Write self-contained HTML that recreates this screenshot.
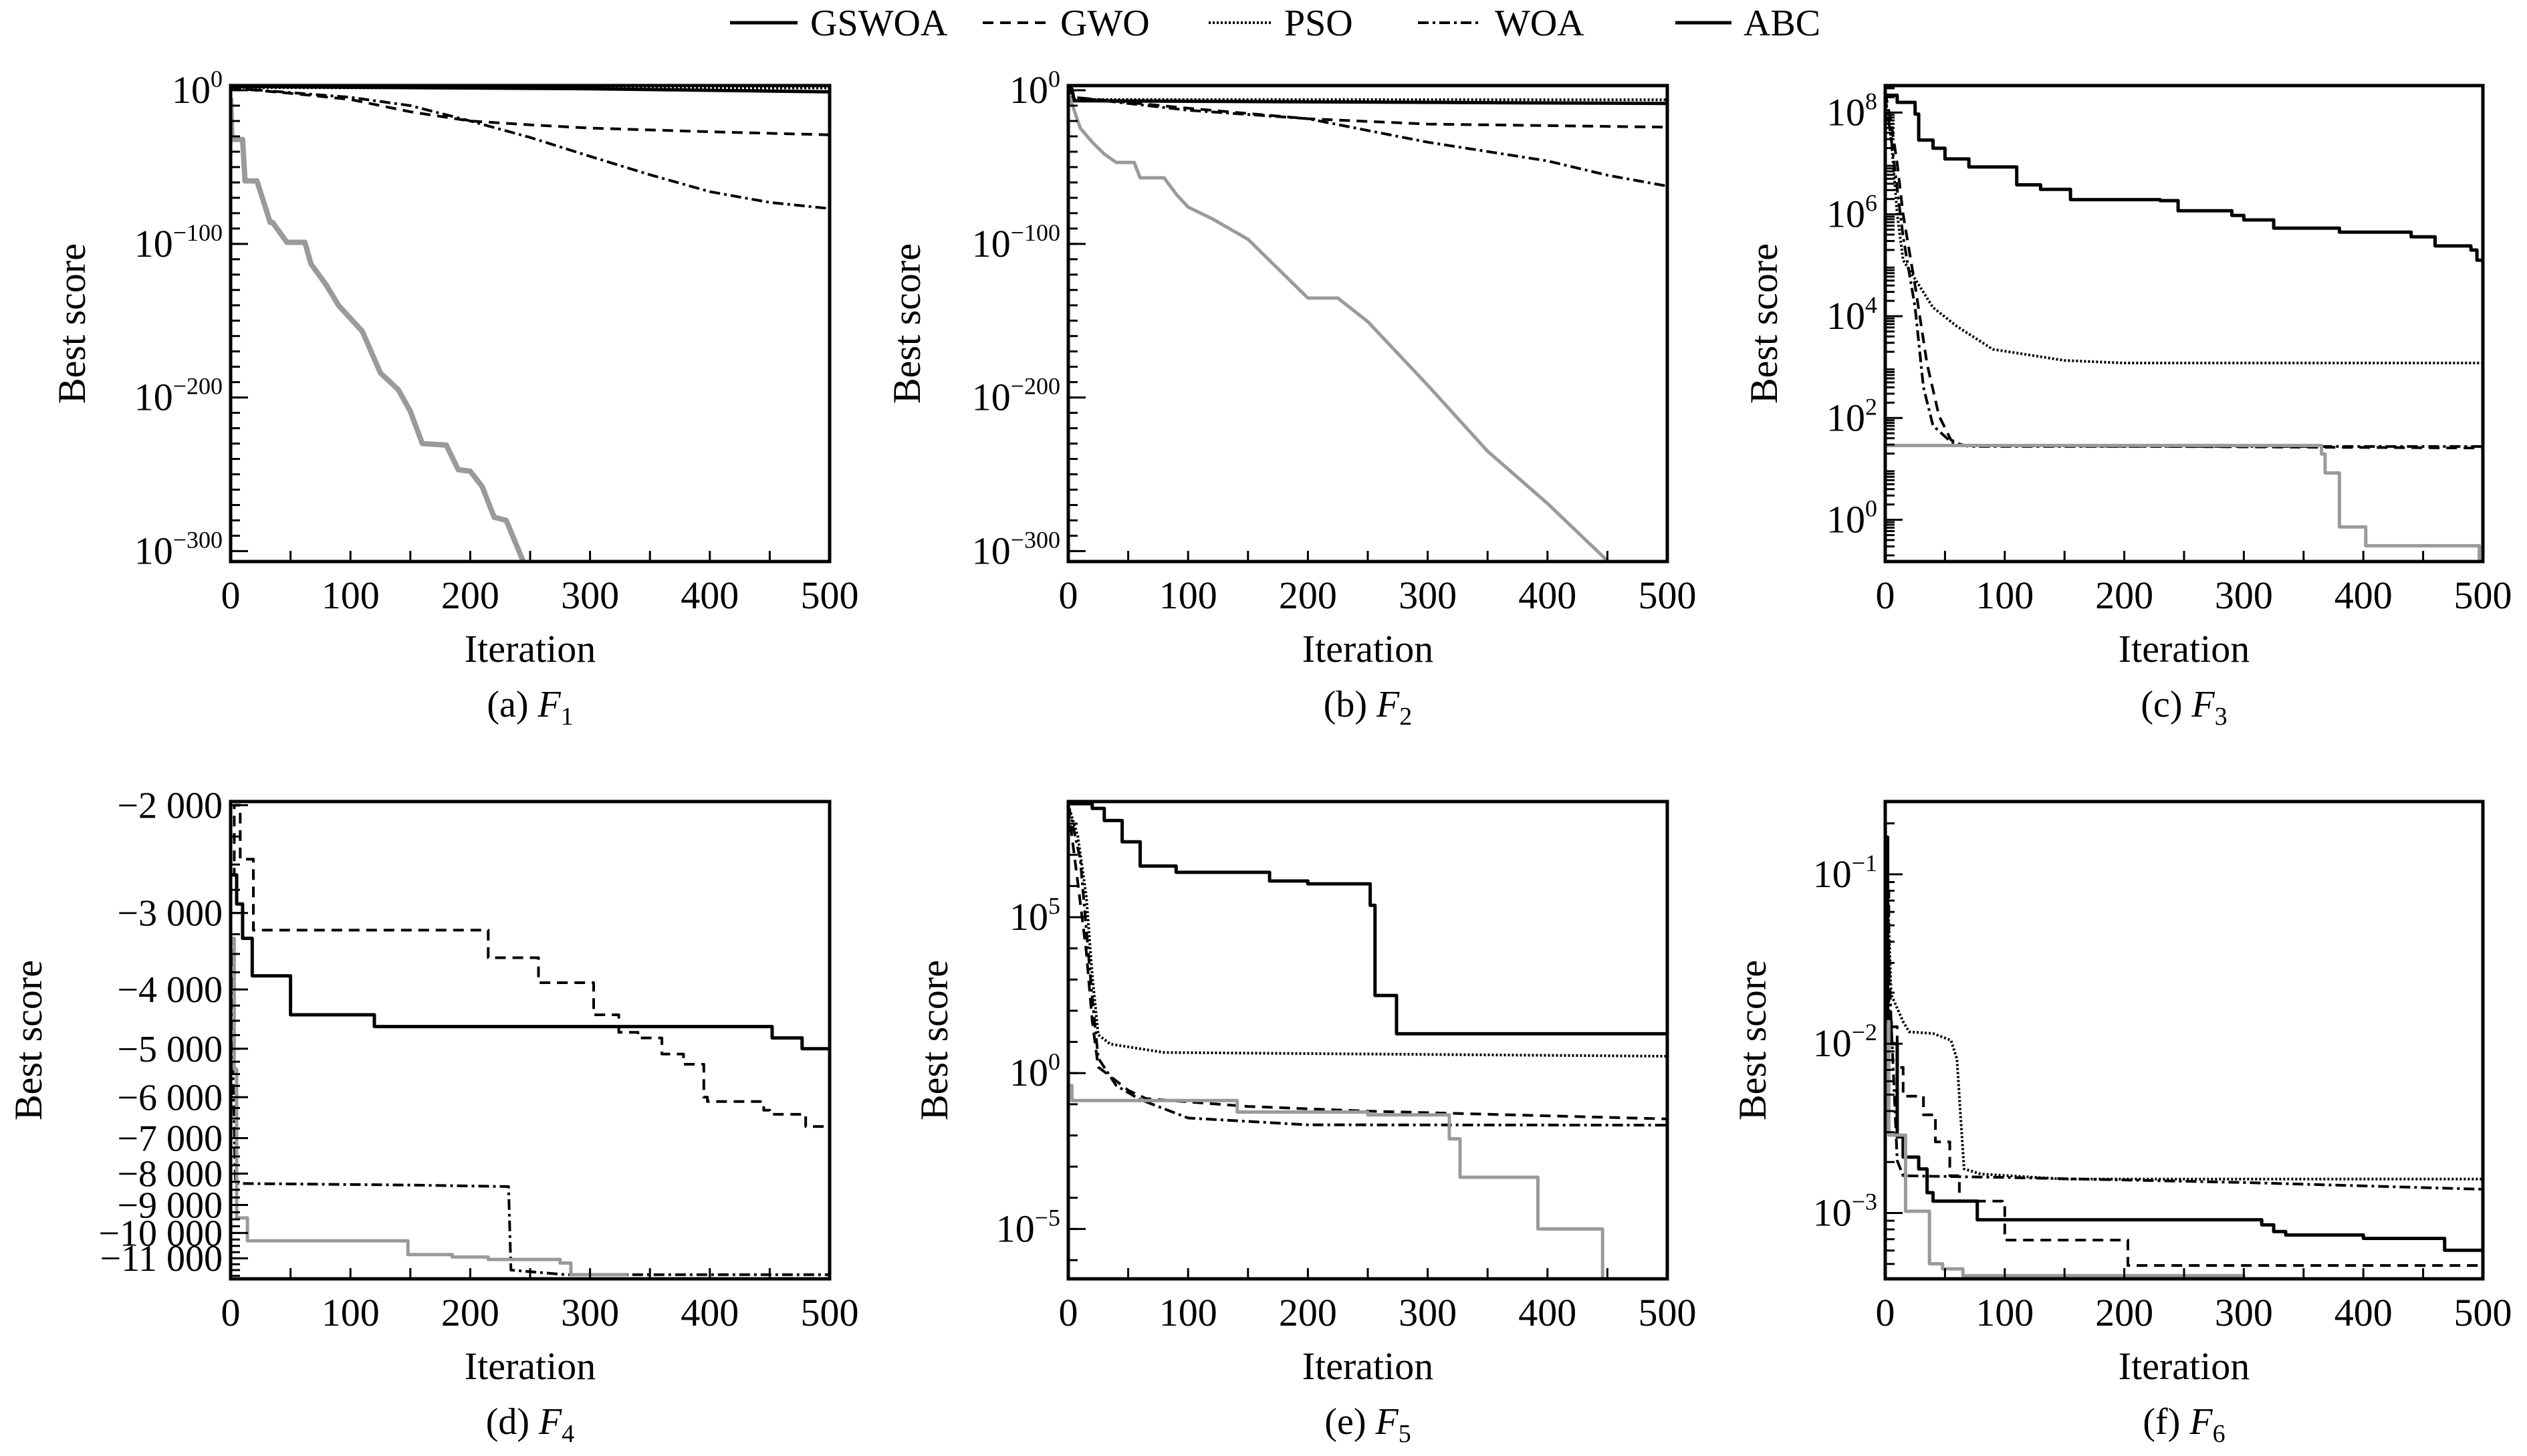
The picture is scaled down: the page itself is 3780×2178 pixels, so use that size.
<!DOCTYPE html>
<html><head><meta charset="utf-8"><title>Convergence curves</title>
<style>
html,body{margin:0;padding:0;background:#fff;}
svg, svg text{font-family:"Liberation Serif","DejaVu Serif",serif;}
</style></head>
<body>
<svg id="chart" width="3780" height="2173" viewBox="0 0 3780 2173" xmlns="http://www.w3.org/2000/svg" font-family="Liberation Serif, serif">
<rect x="0" y="0" width="3780" height="2173" fill="#fff"/>
<g id="legend" font-size="56">
  <g><line x1="1092" y1="34" x2="1193" y2="34" stroke="#000" stroke-width="5"/><text x="1212" y="53">GSWOA</text></g>
  <g><line x1="1470" y1="34" x2="1567" y2="34" stroke="#000" stroke-width="4" stroke-dasharray="16,10"/><text x="1586" y="53">GWO</text></g>
  <g><line x1="1808" y1="34" x2="1904" y2="34" stroke="#000" stroke-width="4" stroke-dasharray="3,3"/><text x="1921" y="53">PSO</text></g>
  <g><line x1="2121" y1="34" x2="2217" y2="34" stroke="#000" stroke-width="4" stroke-dasharray="16,6,4,6"/><text x="2236" y="53">WOA</text></g>
  <g><line x1="2506" y1="34" x2="2590" y2="34" stroke="#000" stroke-width="5"/><text x="2608" y="53">ABC</text></g>
</g>
</svg>
<script>
// ---- data (iterations and log10 best score; panel d raw values) ----
const xTicks = [0,100,200,300,400,500];

const f1_gswoa_it = [0,1,10,12,22,33,35,47,62,67,80,90,110,125,140,150,160,180,190,200,210,220,230,246];
const f1_gswoa_log = [-5,-32,-32,-59,-59,-86,-86,-99,-99,-113,-127,-140,-157,-184,-195,-209,-230,-231,-247,-248,-258,-278,-280,-310];
const f1_gwo_it = [0,50,100,150,200,250,300,400,500];
const f1_gwo_log = [1.5,-2,-6,-14,-20,-22.5,-24.6,-27,-29];
const f1_pso_it = [0,100,500];
const f1_pso_log = [1.8,1.6,1.5];
const f1_woa_it = [0,50,100,150,180,200,250,300,350,400,450,500];
const f1_woa_log = [1.5,-1.5,-4.6,-10,-16,-20,-30.7,-43,-55,-66,-73,-77];
const f1_abc_it = [0,100,300,500];
const f1_abc_log = [2.5,2,1,-1];
const f1_yticks = [0,-100,-200,-300];

const f2_gswoa_it = [0,10,20,30,40,55,60,80,90,100,120,150,200,225,250,300,350,400,455];
const f2_gswoa_log = [-2,-24.6,-33.8,-41.5,-47,-47,-57,-57,-67.6,-76,-83.6,-97,-135.3,-135.3,-150.6,-192,-235,-269,-310];
const f2_gwo_it = [0,2,5,100,200,300,500];
const f2_gwo_log = [2,1,-4.6,-11.7,-18.5,-22,-24];
const f2_pso_it = [0,5,500];
const f2_pso_log = [1,-6,-6.2];
const f2_woa_it = [0,5,100,200,260,300,400,450,500];
const f2_woa_log = [2,-4.6,-13,-18.5,-27.7,-33.8,-46,-55.3,-62.4];
const f2_abc_it = [0,3,5,500];
const f2_abc_log = [2,1,-6.8,-8.6];
const f2_yticks = [0,-100,-200,-300];

const f3_abc_it = [0,10,25,28,40,50,70,110,130,155,230,245,290,300,325,380,440,460,490,495,500];
const f3_abc_log = [8.34,8.2,7.97,7.46,7.3,7.09,6.93,6.58,6.49,6.29,6.27,6.07,5.98,5.89,5.73,5.65,5.56,5.38,5.3,5.1,5.1];
const f3_pso_it = [0,5,10,15,25,40,60,90,150,200,500];
const f3_pso_log = [8.3,7.5,6.0,5.1,4.73,4.17,3.8,3.35,3.13,3.08,3.08];
const f3_gwo_it = [0,5,10,15,25,35,45,55,65,500];
const f3_gwo_log = [8.4,7.8,7.0,6.0,4.6,3.06,2.04,1.57,1.46,1.41];
const f3_woa_it = [0,5,10,15,25,32,40,55,70,500];
const f3_woa_log = [8.3,7.5,6.5,5.56,4.17,2.6,1.85,1.53,1.44,1.44];
const f3_gswoa_it = [0,365,368,380,402,497,500];
const f3_gswoa_log = [1.46,1.29,0.92,-0.14,-0.51,-0.9,-0.9];
const f3_yticks = [0,2,4,6,8];

const f4_abc_it = [0,5,10,18,50,120,452,477,500];
const f4_abc_val = [-2600,-2900,-3300,-3800,-4400,-4600,-4800,-5000,-5000];
const f4_gwo_it = [0,3,8,19,215,257,303,324,340,360,378,395,398,445,450,480,500];
const f4_gwo_val = [-2600,-2000,-2450,-3200,-3550,-3900,-4400,-4700,-4800,-5100,-5300,-6000,-6100,-6300,-6400,-6700,-6800];
const f4_woa_it = [0,2,4,150,232,234,280,500];
const f4_woa_val = [-3000,-5500,-8300,-8350,-8400,-11500,-11700,-11700];
const f4_gswoa_it = [0,3,5,14,148,185,215,275,284,330];
const f4_gswoa_val = [-3300,-5400,-9450,-10300,-10850,-10950,-11050,-11200,-11700,-11750];
const f4_yticks = [-2000,-3000,-4000,-5000,-6000,-7000,-8000,-9000,-10000,-11000];
const f4_ylabels = ["−2 000","−3 000","−4 000","−5 000","−6 000","−7 000","−8 000","−9 000","−10 000","−11 000"];

const f5_abc_it = [0,20,30,45,60,90,168,200,252,256,274,500];
const f5_abc_log = [8.64,8.49,8.1,7.42,6.64,6.44,6.16,6.07,5.38,2.49,1.26,1.26];
const f5_pso_it = [0,8,15,20,25,35,80,500];
const f5_pso_log = [8.6,7.6,5.67,3.15,1.23,0.93,0.66,0.54];
const f5_gwo_it = [0,8,15,20,25,35,50,65,150,250,500];
const f5_gwo_log = [8.5,6.1,3.9,1.68,0.19,-0.1,-0.55,-0.82,-1.07,-1.22,-1.47];
const f5_woa_it = [0,10,15,20,25,40,60,100,200,500];
const f5_woa_log = [8.6,6.86,4.63,2.41,0.48,-0.4,-0.85,-1.44,-1.66,-1.67];
const f5_gswoa_it = [0,3,141,250,318,327,392,446];
const f5_gswoa_log = [-0.4,-0.88,-1.25,-1.34,-2.11,-3.34,-5.0,-8];
const f5_yticks = [-5,0,5];

const f6_abc_it = [0,2,5,10,15,28,35,40,77,315,325,335,400,468,500];
const f6_abc_log = [-0.78,-1.87,-2.0,-2.55,-2.67,-2.74,-2.88,-2.93,-3.04,-3.07,-3.11,-3.13,-3.15,-3.22,-3.22];
const f6_gwo_it = [0,3,10,15,32,42,54,62,98,100,203,500];
const f6_gwo_log = [-1.1,-1.9,-2.14,-2.31,-2.42,-2.58,-2.78,-2.93,-2.96,-3.16,-3.31,-3.33];
const f6_pso_it = [0,5,15,20,40,55,60,63,66,80,150,500];
const f6_pso_log = [-0.65,-1.71,-1.87,-1.93,-1.94,-1.98,-2.09,-2.42,-2.74,-2.77,-2.8,-2.8];
const f6_woa_it = [0,5,10,15,100,300,500];
const f6_woa_log = [-0.92,-1.87,-2.69,-2.78,-2.79,-2.82,-2.86];
const f6_gswoa_it = [0,3,17,37,48,65,300];
const f6_gswoa_log = [-1.87,-2.54,-2.99,-3.3,-3.33,-3.37,-3.38];
const f6_yticks = [-3,-2,-1];

// ---- rendering ----
const NS = "http://www.w3.org/2000/svg";
const svg = document.getElementById('chart');
const FONT = '"Liberation Serif", "DejaVu Serif", serif';
function mk(tag, attrs, parent){ const e=document.createElementNS(NS,tag); for(const k in attrs) e.setAttribute(k,attrs[k]); (parent||svg).appendChild(e); if(tag==='text') e.style.fontFamily=FONT; return e; }
document.querySelectorAll('#legend text').forEach(t=>t.style.fontFamily=FONT);

const STY = {
  gswoa:{stroke:'#9a9a9a', w:5, dash:null},
  gwo:{stroke:'#000', w:4, dash:'16,10'},
  pso:{stroke:'#000', w:4, dash:'3,3'},
  woa:{stroke:'#000', w:4, dash:'16,6,4,6'},
  abc:{stroke:'#000', w:5, dash:null}
};

const panels = [
  {id:'a', sub:'1', L:345, R:1241, T:128, B:840, t0:3.07, t1:-306.8, lx:108, logv:true, ticks:f1_yticks, minor:'ten',
   series:[['abc',f1_abc_it,f1_abc_log,false],['pso',f1_pso_it,f1_pso_log,false],['gwo',f1_gwo_it,f1_gwo_log,false],['woa',f1_woa_it,f1_woa_log,false],['gswoa',f1_gswoa_it,f1_gswoa_log,false,8]]},
  {id:'b', sub:'2', L:1598, R:2494, T:128, B:840, t0:3.07, t1:-306.8, lx:1357, logv:true, ticks:f2_yticks, minor:'ten',
   series:[['abc',f2_abc_it,f2_abc_log,false],['pso',f2_pso_it,f2_pso_log,false],['gwo',f2_gwo_it,f2_gwo_log,false],['woa',f2_woa_it,f2_woa_log,false],['gswoa',f2_gswoa_it,f2_gswoa_log,false]]},
  {id:'c', sub:'3', L:2820, R:3714, T:128, B:840, t0:8.53, t1:-0.82, lx:2639, logv:true, ticks:f3_yticks, minor:'log',
   series:[['abc',f3_abc_it,f3_abc_log,true],['pso',f3_pso_it,f3_pso_log,false],['gwo',f3_gwo_it,f3_gwo_log,false],['woa',f3_woa_it,f3_woa_log,false],['gswoa',f3_gswoa_it,f3_gswoa_log,true]]},
  {id:'d', sub:'4', L:345, R:1241, T:1199, B:1913, t0:3.295, t1:4.075, lx:43, logv:false, ticks:f4_yticks, minor:'neg',
   series:[['abc',f4_abc_it,f4_abc_val,true],['gwo',f4_gwo_it,f4_gwo_val,true],['woa',f4_woa_it,f4_woa_val,false],['gswoa',f4_gswoa_it,f4_gswoa_val,true]]},
  {id:'e', sub:'5', L:1598, R:2494, T:1199, B:1913, t0:8.71, t1:-6.6, lx:1398, logv:true, ticks:f5_yticks, minor:'dec',
   series:[['abc',f5_abc_it,f5_abc_log,true],['pso',f5_pso_it,f5_pso_log,false],['gwo',f5_gwo_it,f5_gwo_log,false],['woa',f5_woa_it,f5_woa_log,false],['gswoa',f5_gswoa_it,f5_gswoa_log,true]]},
  {id:'f', sub:'6', L:2820, R:3714, T:1199, B:1913, t0:-0.57, t1:-3.389, lx:2622, logv:true, ticks:f6_yticks, minor:'log',
   series:[['abc',f6_abc_it,f6_abc_log,true],['gwo',f6_gwo_it,f6_gwo_log,true],['pso',f6_pso_it,f6_pso_log,false],['woa',f6_woa_it,f6_woa_log,false],['gswoa',f6_gswoa_it,f6_gswoa_log,true]]}
];

panels.forEach(p=>{
  const g = mk('g',{});
  
  
  const xs = v => p.L + (v/500)*(p.R-p.L);
  const tr = v => p.logv ? v : Math.log10(-v);
  const ys = v => p.T + (tr(v)-p.t0)/(p.t1-p.t0)*(p.B-p.T);
  const yt = t => p.T + (t-p.t0)/(p.t1-p.t0)*(p.B-p.T);

  const cp = mk('clipPath',{id:'clip'+p.id},g);
  mk('rect',{x:p.L,y:p.T,width:p.R-p.L,height:p.B-p.T},cp);

  const sg = mk('g',{'clip-path':'url(#clip'+p.id+')'},g);
  p.series.forEach(s=>{
    const [name,its,vals,step,wOverride] = s;
    const st = STY[name];
    let d='';
    for(let i=0;i<its.length;i++){
      const x=xs(its[i]), y=ys(vals[i]);
      if(i===0){ d+='M'+x.toFixed(1)+' '+y.toFixed(1); }
      else if(step){ d+=' H'+x.toFixed(1)+' V'+y.toFixed(1); }
      else { d+=' L'+x.toFixed(1)+' '+y.toFixed(1); }
    }
    const path = mk('path',{d:d,fill:'none',stroke:st.stroke,'stroke-width':wOverride||st.w,'stroke-linejoin':'round'},sg);
    if(st.dash) path.setAttribute('stroke-dasharray',st.dash);
    
    
  });

  const tg = mk('g',{stroke:'#000','stroke-width':3},g);
  let minors=[];
  if(p.minor==='ten'){ for(let e=0;e>=-310;e-=10) minors.push(e); }
  else if(p.minor==='dec'){ for(let e=Math.ceil(p.t1);e<=Math.floor(p.t0);e++) minors.push(e); }
  else if(p.minor==='log'){ for(let e=Math.floor(p.t1)-1;e<=Math.ceil(p.t0);e++) for(let k=2;k<=9;k++) minors.push(e+Math.log10(k)); }
  else if(p.minor==='neg'){ for(let v=2000;v<=12000;v+=250) minors.push(Math.log10(v)); }
  minors.forEach(t=>{ const y=yt(t); if(y>=p.T&&y<=p.B) mk('line',{x1:p.L,x2:p.L+14,y1:y,y2:y},tg); });

  p.ticks.forEach((v,i)=>{
    const y = p.logv ? yt(v) : ys(v);
    mk('line',{x1:p.L,x2:p.L+26,y1:y,y2:y,'stroke-width':3},tg);
    const tx = mk('text',{x:p.L-12,y:y+19,'text-anchor':'end','font-size':p.logv?58:56},g);
    
    
    if(p.logv){
      tx.textContent='10';
      const sp=mk('tspan',{dy:-24,'font-size':36},tx);
      sp.textContent = v===0?'0':(v>0?String(v):'−'+Math.abs(v));
    } else {
      tx.textContent = f4_ylabels[i];
    }
  });

  for(let v=0;v<=500;v+=50){ const x=xs(v); mk('line',{x1:x,x2:x,y1:p.B,y2:p.B-16},tg); }
  xTicks.forEach(v=>{
    const tx=mk('text',{x:xs(v),y:p.B+70,'text-anchor':'middle','font-size':58},g);
    
    
    tx.textContent=String(v);
  });

  const fr = mk('rect',{x:p.L,y:p.T,width:p.R-p.L,height:p.B-p.T,fill:'none',stroke:'#000','stroke-width':5},g);
  
  

  const xt = mk('text',{x:(p.L+p.R)/2,y:p.B+150,'text-anchor':'middle','font-size':58},g);
  
  
  xt.textContent='Iteration';
  const yl = mk('text',{x:p.lx,y:(p.T+p.B)/2,'text-anchor':'middle','font-size':58,transform:'rotate(-90 '+p.lx+' '+((p.T+p.B)/2)+')'},g);
  
  
  yl.setAttribute('dy','19');
  yl.textContent='Best score';

  const cap = mk('text',{x:(p.L+p.R)/2,y:p.B+232,'text-anchor':'middle','font-size':56},g);
  
  
  cap.textContent='('+p.id+') ';
  const f = mk('tspan',{'font-style':'italic'},cap); f.textContent='F';
  const sb = mk('tspan',{dy:12,'font-size':38},cap); sb.textContent=p.sub;
});
</script>
</body></html>
